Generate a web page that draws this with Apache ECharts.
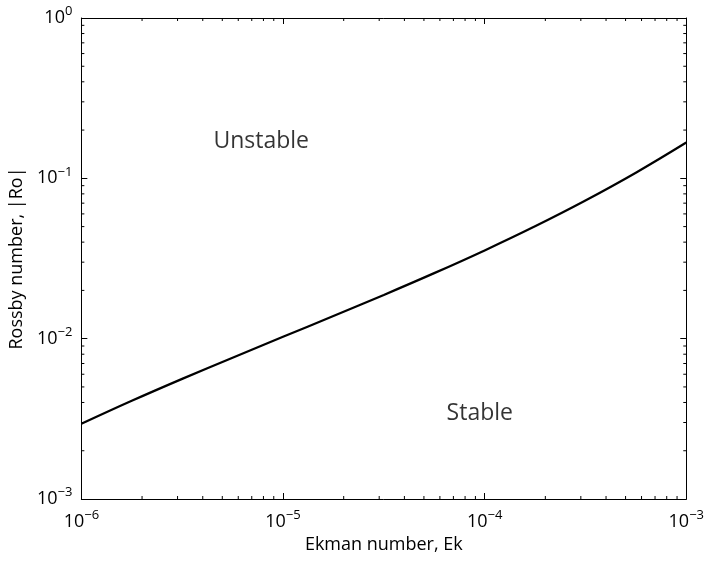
<!DOCTYPE html>
<html>
<head>
<meta charset="utf-8">
<script src="https://cdn.jsdelivr.net/npm/echarts@6/dist/echarts.min.js"></script>
<style>html,body{margin:0;padding:0;background:#fff;}#c{width:707px;height:561px;}</style>
</head>
<body>
<div id="c"></div>
<script>
// Ekman number (x) and critical Rossby number (y)
const ekman = [1e-6, 1.778e-6, 3.162e-6, 5.623e-6, 1e-5, 1.778e-5, 3.162e-5, 5.623e-5, 1e-4, 1.778e-4, 3.162e-4, 5.623e-4, 1e-3];
const rossby = [0.002944, 0.004097, 0.005614, 0.007612, 0.01027, 0.01385, 0.01875, 0.02563, 0.03553, 0.05022, 0.07272, 0.1084, 0.1672];
// region annotations
const regionNames = ['Unstable', 'Stable'];
const regionEk = [7.8e-6, 9.46e-5];
const regionRo = [0.170, 0.00344];
// axis ranges
const xRange = [1e-6, 1e-3];
const yRange = [1e-3, 1];
// minor tick values (2..9 per decade)
const mantissas = [2, 3, 4, 5, 6, 7, 8, 9];
const xDecades = [1e-6, 1e-5, 1e-4];
const yDecades = [1e-3, 1e-2, 1e-1];

const FONT = 'Open Sans';
const xMinor = [];
xDecades.forEach(d => mantissas.forEach(m => xMinor.push([m * d, yRange[0]])));
const yMinor = [];
yDecades.forEach(d => mantissas.forEach(m => yMinor.push([xRange[0], m * d])));

function powLabel(v) {
  const e = Math.round(Math.log10(v));
  return '{b|10}{s|' + (e < 0 ? '\u2212' + (-e) : String(e)) + '}';
}
const rich = {
  b: { fontFamily: FONT, fontSize: 18, color: '#000', lineHeight: 26 },
  s: { fontFamily: FONT, fontSize: 13, color: '#000', lineHeight: 12, verticalAlign: 'top' }
};
const lineStyle = { color: '#000', width: 1 };

const chart = echarts.init(document.getElementById('c'));
chart.setOption({
  backgroundColor: '#fff',
  animation: false,
  grid: { left: 81, right: 17, top: 18, bottom: 62 },
  xAxis: [
    {
      type: 'log', logBase: 10, min: xRange[0], max: xRange[1], position: 'bottom',
      axisLine: { lineStyle }, axisTick: { inside: true, length: 6, lineStyle },
      splitLine: { show: false },
      axisLabel: { formatter: powLabel, rich, margin: 10 },
      name: 'Ekman number, Ek', nameLocation: 'middle', nameGap: 36,
      nameTextStyle: { fontFamily: FONT, fontSize: 18, color: '#000' }
    },
    {
      type: 'log', logBase: 10, min: xRange[0], max: xRange[1], position: 'top',
      axisLine: { lineStyle }, axisTick: { inside: true, length: 6, lineStyle },
      splitLine: { show: false }, axisLabel: { show: false }
    }
  ],
  yAxis: [
    {
      type: 'log', logBase: 10, min: yRange[0], max: yRange[1], position: 'left',
      axisLine: { lineStyle }, axisTick: { inside: true, length: 6, lineStyle },
      splitLine: { show: false },
      axisLabel: { formatter: powLabel, rich, margin: 9 },
      name: 'Rossby number, |Ro|', nameLocation: 'middle', nameGap: 45,
      nameTextStyle: { fontFamily: FONT, fontSize: 18, color: '#000' }
    },
    {
      type: 'log', logBase: 10, min: yRange[0], max: yRange[1], position: 'right',
      axisLine: { lineStyle }, axisTick: { inside: true, length: 6, lineStyle },
      splitLine: { show: false }, axisLabel: { show: false }
    }
  ],
  series: [
    {
      type: 'line', xAxisIndex: 0, yAxisIndex: 0,
      data: ekman.map((x, i) => [x, rossby[i]]),
      smooth: 0.4, showSymbol: false, symbol: 'none',
      lineStyle: { color: '#000', width: 2.2 }, z: 5
    },
    {
      type: 'scatter', xAxisIndex: 0, yAxisIndex: 0, symbolSize: 0, silent: true,
      data: regionNames.map((n, i) => ({ name: n, value: [regionEk[i], regionRo[i]] })),
      label: { show: true, position: 'inside', formatter: p => p.name,
        fontFamily: FONT, fontSize: 23, color: '#000' }
    },
    {
      type: 'custom', xAxisIndex: 0, yAxisIndex: 0, silent: true, clip: false,
      data: xMinor,
      renderItem: function (params, api) {
        const v = api.value(0);
        const b = api.coord([v, yRange[0]]);
        const t = api.coord([v, yRange[1]]);
        return { type: 'group', children: [
          { type: 'line', shape: { x1: b[0], y1: b[1], x2: b[0], y2: b[1] - 3 }, style: { stroke: '#000', lineWidth: 1 } },
          { type: 'line', shape: { x1: t[0], y1: t[1], x2: t[0], y2: t[1] + 3 }, style: { stroke: '#000', lineWidth: 1 } }
        ] };
      }
    },
    {
      type: 'custom', xAxisIndex: 0, yAxisIndex: 0, silent: true, clip: false,
      data: yMinor,
      renderItem: function (params, api) {
        const v = api.value(1);
        const l = api.coord([xRange[0], v]);
        const r = api.coord([xRange[1], v]);
        return { type: 'group', children: [
          { type: 'line', shape: { x1: l[0], y1: l[1], x2: l[0] + 3, y2: l[1] }, style: { stroke: '#000', lineWidth: 1 } },
          { type: 'line', shape: { x1: r[0], y1: r[1], x2: r[0] - 3, y2: r[1] }, style: { stroke: '#000', lineWidth: 1 } }
        ] };
      }
    }
  ]
});
</script>
</body>
</html>
